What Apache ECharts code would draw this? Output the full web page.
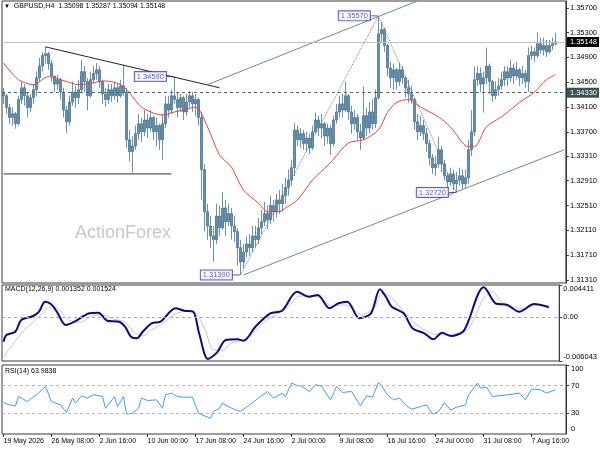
<!DOCTYPE html>
<html><head><meta charset="utf-8">
<script src="https://cdn.jsdelivr.net/npm/echarts@6/dist/echarts.min.js"></script>
<style>html,body{margin:0;padding:0;background:#fff}#c{width:600px;height:450px}</style>
</head><body><div id="c"></div>
<script>
const FONT = 'Liberation Sans';
const xLabels = ['19 May 2026','26 May 08:00','2 Jun 16:00','10 Jun 00:00','17 Jun 08:00','24 Jun 16:00','2 Jul 00:00','9 Jul 08:00','16 Jul 16:00','24 Jul 00:00','31 Jul 08:00','7 Aug 16:00'];
const priceTicks = [1.3131,1.3171,1.3211,1.3251,1.3291,1.3331,1.337,1.341,1.345,1.349,1.353,1.357];
const macdTicks = [-0.006043,0,0.004411];
const rsiTicks = [30,70,100];
const rsiZeroTick = [0];
const headerValues = [1.35098,1.35287,1.35094,1.35148];
const currentPrice = 1.35148;
const levelPrice = 1.3433;
const firstOpen = 1.3434;
const closes = [
1.3428,1.3409,1.3393,1.3399,1.3383,1.3422,1.3441,1.3428,1.3409,1.3425,
1.3438,1.3457,1.3476,1.3493,1.3496,1.3480,1.3460,1.3447,1.3454,1.3434,
1.3405,1.3386,1.3418,1.3434,1.3425,1.3438,1.3467,1.3451,1.3428,1.3454,
1.3464,1.3470,1.3451,1.3431,1.3422,1.3438,1.3428,1.3441,1.3428,1.3444,
1.3434,1.3357,1.3338,1.3347,1.3367,1.3383,1.3370,1.3389,1.3376,1.3393,
1.3370,1.3380,1.3357,1.3383,1.3415,1.3405,1.3428,1.3422,1.3409,1.3425,
1.3402,1.3418,1.3428,1.3415,1.3422,1.3393,1.3309,1.3241,1.3218,1.3202,
1.3196,1.3234,1.3215,1.3247,1.3225,1.3238,1.3218,1.3209,1.3183,1.3160,
1.3176,1.3189,1.3183,1.3202,1.3196,1.3215,1.3225,1.3238,1.3228,1.3251,
1.3241,1.3260,1.3254,1.3267,1.3280,1.3292,1.3312,1.3373,1.3357,1.3367,
1.3351,1.3360,1.3344,1.3370,1.3389,1.3376,1.3383,1.3363,1.3376,1.3351,
1.3389,1.3402,1.3415,1.3405,1.3428,1.3402,1.3383,1.3393,1.3370,1.3360,
1.3396,1.3376,1.3402,1.3383,1.3425,1.3528,1.3535,1.3509,1.3473,1.3457,
1.3470,1.3451,1.3470,1.3457,1.3441,1.3431,1.3422,1.3386,1.3370,1.3380,
1.3367,1.3351,1.3328,1.3312,1.3318,1.3341,1.3318,1.3299,1.3289,1.3302,
1.3286,1.3292,1.3299,1.3286,1.3296,1.3341,1.3370,1.3454,1.3464,1.3447,
1.3457,1.3476,1.3451,1.3428,1.3438,1.3444,1.3454,1.3467,1.3457,1.3473,
1.3460,1.3470,1.3457,1.3464,1.3451,1.3493,1.3499,1.3493,1.3512,1.3502,
1.3509,1.3499,1.3509,1.3512,1.3515];
const highs = [
1.3441,1.3431,1.3415,1.3409,1.3402,1.3428,1.3451,1.3447,1.3434,1.3431,
1.3447,1.3467,1.3489,1.3499,1.3507,1.3499,1.3486,1.3460,1.3462,1.3457,
1.3441,1.3412,1.3428,1.3451,1.3444,1.3454,1.3486,1.3476,1.3457,1.3467,
1.3476,1.3481,1.3476,1.3454,1.3441,1.3447,1.3447,1.3451,1.3447,1.3454,
1.3478,1.3441,1.3373,1.3363,1.3380,1.3399,1.3393,1.3405,1.3399,1.3405,
1.3396,1.3393,1.3383,1.3399,1.3428,1.3428,1.3438,1.3459,1.3434,1.3431,
1.3428,1.3431,1.3436,1.3434,1.3431,1.3425,1.3402,1.3318,1.3254,1.3234,
1.3218,1.3254,1.3251,1.3273,1.3260,1.3254,1.3247,1.3234,1.3215,1.3196,
1.3189,1.3202,1.3205,1.3218,1.3218,1.3231,1.3244,1.3257,1.3251,1.3267,
1.3260,1.3270,1.3276,1.3286,1.3296,1.3309,1.3325,1.3384,1.3380,1.3376,
1.3373,1.3370,1.3367,1.3380,1.3401,1.3396,1.3399,1.3386,1.3383,1.3380,
1.3396,1.3415,1.3428,1.3431,1.3451,1.3431,1.3412,1.3405,1.3399,1.3383,
1.3443,1.3409,1.3418,1.3422,1.3438,1.3557,1.3547,1.3538,1.3512,1.3483,
1.3480,1.3473,1.3481,1.3476,1.3460,1.3454,1.3444,1.3425,1.3399,1.3396,
1.3389,1.3376,1.3357,1.3334,1.3331,1.3362,1.3347,1.3325,1.3305,1.3312,
1.3309,1.3305,1.3312,1.3309,1.3309,1.3357,1.3405,1.3475,1.3476,1.3473,
1.3467,1.3506,1.3480,1.3454,1.3451,1.3457,1.3467,1.3476,1.3476,1.3486,
1.3480,1.3483,1.3473,1.3476,1.3470,1.3506,1.3509,1.3506,1.3530,1.3522,
1.3522,1.3518,1.3518,1.3522,1.3530];
const lows = [
1.3415,1.3399,1.3383,1.3380,1.3375,1.3380,1.3415,1.3412,1.3393,1.3402,
1.3415,1.3428,1.3451,1.3467,1.3480,1.3470,1.3451,1.3434,1.3438,1.3422,
1.3393,1.3368,1.3380,1.3412,1.3409,1.3415,1.3434,1.3434,1.3405,1.3425,
1.3447,1.3454,1.3441,1.3415,1.3410,1.3415,1.3418,1.3422,1.3417,1.3425,
1.3428,1.3344,1.3322,1.3304,1.3341,1.3357,1.3354,1.3363,1.3360,1.3370,
1.3357,1.3347,1.3341,1.3325,1.3376,1.3393,1.3399,1.3415,1.3393,1.3402,
1.3389,1.3396,1.3409,1.3402,1.3396,1.3380,1.3260,1.3209,1.3196,1.3183,
1.3160,1.3189,1.3202,1.3212,1.3202,1.3218,1.3196,1.3192,1.3154,1.3139,
1.3150,1.3167,1.3170,1.3176,1.3183,1.3189,1.3205,1.3218,1.3212,1.3221,
1.3225,1.3231,1.3238,1.3241,1.3254,1.3267,1.3283,1.3299,1.3347,1.3344,
1.3341,1.3338,1.3334,1.3341,1.3367,1.3363,1.3360,1.3347,1.3351,1.3333,
1.3347,1.3383,1.3393,1.3393,1.3402,1.3389,1.3367,1.3373,1.3357,1.3341,
1.3357,1.3363,1.3367,1.3373,1.3376,1.3422,1.3515,1.3499,1.3460,1.3441,
1.3438,1.3438,1.3444,1.3447,1.3425,1.3417,1.3415,1.3373,1.3357,1.3363,
1.3357,1.3338,1.3315,1.3302,1.3299,1.3312,1.3305,1.3292,1.3280,1.3283,
1.3276,1.3272,1.3283,1.3278,1.3280,1.3286,1.3331,1.3363,1.3444,1.3434,
1.3401,1.3447,1.3431,1.3418,1.3422,1.3428,1.3438,1.3444,1.3444,1.3451,
1.3447,1.3454,1.3444,1.3447,1.3441,1.3434,1.3486,1.3483,1.3489,1.3496,
1.3493,1.3491,1.3496,1.3502,1.3509];
const maPoints = [[0,1.3481],[5,1.3454],[10,1.3446],[15,1.3459],[21,1.3451],[25,1.3446],[32,1.3451],[34,1.3452],[39,1.3446],[42,1.3433],[46,1.3410],[53,1.3397],[57,1.3402],[60,1.3405],[64,1.3410],[68,1.3378],[72,1.3333],[76,1.3313],[80,1.3276],[85,1.3255],[88,1.3241],[92,1.3241],[94,1.3247],[98,1.3260],[103,1.3292],[109,1.3320],[115,1.3352],[120,1.3357],[125,1.3373],[128,1.3401],[131,1.3417],[135,1.3422],[139,1.3410],[145,1.3394],[149,1.3378],[155,1.3346],[157,1.3346],[161,1.3378],[166,1.3394],[172,1.3417],[177,1.3434],[181,1.3454],[184,1.3462]];
const macdPoints = [[0,-0.003388],[1,-0.002466],[4,-0.002012],[6,-0.000403],[10,0.000147],[12,0.000739],[14,0.002114],[16,0.001798],[18,0.000739],[21,-0.001091],[24,-0.000637],[29,0.000519],[32,0.000601],[35,-0.000499],[39,-0.000637],[41,-0.001325],[43,-0.002700],[45,-0.002920],[47,-0.002012],[50,-0.000857],[53,-0.000637],[58,0.001206],[61,0.000876],[64,0.000739],[66,-0.002233],[69,-0.005770],[72,-0.004900],[75,-0.003154],[79,-0.003058],[81,-0.003250],[85,-0.001325],[90,0.000519],[94,0.000876],[99,0.003490],[103,0.002801],[106,0.003034],[110,0.001206],[113,0.001893],[116,0.002114],[120,-0.000167],[124,0.000519],[127,0.003819],[129,0.002801],[131,0.001430],[135,0.000519],[138,-0.001544],[142,-0.002233],[145,-0.003058],[148,-0.002150],[151,-0.002603],[155,-0.002012],[157,-0.000403],[160,0.003034],[162,0.004093],[166,0.001893],[170,0.001660],[174,0.000739],[179,0.001798],[184,0.001352]];
const signalPoints = [[0,-0.005488],[3,-0.003842],[7,-0.001779],[10,-0.000678],[13,0.000422],[16,0.001523],[19,0.000973],[22,-0.000403],[26,-0.000678],[30,0.000147],[34,0.000285],[37,-0.000265],[41,-0.000678],[44,-0.002054],[47,-0.002604],[50,-0.001779],[54,-0.000816],[58,0.000422],[62,0.000835],[65,0.000560],[68,-0.001779],[71,-0.004530],[74,-0.004530],[77,-0.003567],[81,-0.003154],[84,-0.002329],[88,-0.000678],[92,0.000422],[96,0.001385],[100,0.002898],[104,0.002898],[107,0.002623],[111,0.001523],[114,0.001660],[117,0.001385],[121,0.000285],[125,0.001247],[128,0.003311],[131,0.002623],[134,0.001247],[137,-0.000128],[141,-0.001504],[145,-0.002329],[148,-0.002466],[152,-0.002329],[156,-0.001917],[159,-0.000128],[162,0.002623],[165,0.003448],[168,0.002072],[172,0.001385],[176,0.001110],[180,0.001660],[184,0.001524]];
const rsiPoints = [[0,45.5],[2,42.2],[4,40.7],[5,54.3],[6,52],[8,47],[10,54.3],[11,56.8],[14,69],[16,47],[19,42.2],[21,30.9],[23,52],[24,44.7],[26,55.3],[28,52],[30,56.8],[33,54.3],[34,37.3],[37,54.3],[38,39.7],[40,54.3],[41,29],[43,30],[45,37.3],[46,52],[48,48.5],[51,49.5],[53,37.3],[54,56.8],[56,59.3],[58,54.3],[60,53.4],[63,53.4],[65,30],[69,22.7],[70,32.4],[72,37.3],[73,44.7],[76,37.3],[79,32.4],[82,42.2],[85,52],[88,61.6],[90,52],[93,59.3],[94,54.3],[96,73.9],[98,70],[99,70],[102,61.6],[104,71.4],[106,69],[109,49.5],[111,69],[113,60.2],[116,61.6],[119,40.7],[121,55.3],[123,53.4],[125,74.8],[126,70],[128,56.8],[130,49.5],[132,52],[134,42.2],[136,35.9],[139,39.7],[141,42.2],[143,29],[145,32.4],[147,45.5],[149,34.8],[151,38.8],[154,42.2],[155,56.8],[158,73.9],[159,66.6],[161,68.1],[163,54.3],[168,56.8],[172,59.3],[174,49.5],[176,65.2],[179,64.1],[181,59.3],[184,63.9838]];
const swingPoints = [[57,1.3459],[79,1.3139],[125,1.3557],[151,1.3272]];
const zigzag = [[79,1.3139],[125,1.3557],[151,1.3272]];
const trendDown = [[14,1.3507],[72,1.3441]];
const channelUpper = [[68,1.3446],[138,1.3581]];
const channelLower = [[80,1.3139],[187,1.3341]];
const supportLine = [[0,1.3302],[56,1.3302]];
const N = 188;

const cats = Array.from({length:N}, (_, i) => String(i));
const candles = closes.map((c, i) => [i === 0 ? firstOpen : closes[i-1], c, lows[i], highs[i]]);
const frame = {show: true, borderColor: '#3a3a3a', borderWidth: 1, backgroundColor: 'transparent'};

function xAx(g, last) {
  return {
    type: 'category', gridIndex: g, data: cats, boundaryGap: true, show: last,
    axisLine: {show: false, onZero: false},
    axisTick: last ? {show: true, inside: true, interval: (i) => i % 16 === 0, alignWithLabel: true, length: 3, lineStyle: {color: '#333'}} : {show: false},
    axisLabel: last ? {show: true, interval: (i) => i % 16 === 0, formatter: (v, i) => xLabels[i / 16] || '', align: 'left', margin: 1,
      fontFamily: FONT, fontSize: 7, color: '#000'} : {show: false},
    splitLine: {show: false}
  };
}
function yAx(g, min, max, ticks, fmt, margin, vMin, vMax) {
  const o = {
    type: 'value', gridIndex: g, position: 'right', min: min, max: max,
    axisLine: {show: true, onZero: false, lineStyle: {color: '#3a3a3a'}},
    axisTick: {show: true, length: 3, customValues: ticks, lineStyle: {color: '#3a3a3a'}},
    axisLabel: {show: true, customValues: ticks, formatter: fmt, margin: margin, interval: 0,
      hideOverlap: false, showMinLabel: true, showMaxLabel: true, fontFamily: FONT, fontSize: 7.5, color: '#000'},
    splitLine: {show: false}
  };
  if (vMin) o.axisLabel.verticalAlignMinLabel = vMin;
  if (vMax) o.axisLabel.verticalAlignMaxLabel = vMax;
  return o;
}
function seg(data, color, type) {
  return {type: 'line', xAxisIndex: 0, yAxisIndex: 0, data: data, symbol: 'none', silent: true, z: 4,
    lineStyle: {color: color, width: 1, type: type || 'solid'}};
}
const tStyle = {fontFamily: FONT, fontSize: 7, fontWeight: 'normal', color: '#000'};

const chart = echarts.init(document.getElementById('c'), null, {renderer: 'canvas'});
chart.setOption({
  animation: false,
  textStyle: {fontFamily: FONT},
  title: [
    {text: '{t|▼}  GBPUSD,H4  ' + headerValues.map(v => v.toFixed(5)).join(' '), left: 4, top: 3, padding: 0,
      textStyle: Object.assign({rich: {t: {fontSize: 6, color: '#000'}}}, tStyle)},
    {text: 'MACD(12,26,9) ' + macdPoints[macdPoints.length-1][1].toFixed(6) + ' ' + signalPoints[signalPoints.length-1][1].toFixed(6),
      left: 5, top: 286, padding: 0, textStyle: tStyle},
    {text: 'RSI(14) ' + rsiPoints[rsiPoints.length-1][1].toFixed(4),
      left: 5, top: 368, padding: 0, textStyle: tStyle},
    {text: String(rsiZeroTick[0]), left: 571, top: 425, padding: 0,
      textStyle: {fontFamily: FONT, fontSize: 7.5, fontWeight: 'normal', color: '#000'}}
  ],
  graphic: [{type: 'text', left: 75, top: 224, z: 0, silent: true,
    style: {text: 'ActionForex', fontFamily: FONT, fontSize: 18, fill: '#c8c8c8'}}],
  grid: [
    Object.assign({left: 2, right: 34, top: 1, height: 282}, frame),
    Object.assign({left: 2, right: 34, top: 285, height: 76}, frame),
    Object.assign({left: 2, right: 34, top: 365, height: 69}, frame),
    {left: 2, right: 34, top: 365, height: 72, show: false}
  ],
  xAxis: [xAx(0, false), xAx(1, false), xAx(2, false), xAx(3, true)],
  yAxis: [
    yAx(0, 1.3126, 1.3581, priceTicks, v => v.toFixed(5), 4),
    yAx(1, -0.006043, 0.004411, macdTicks, v => v === 0 ? '0.00' : v.toFixed(6), 4, 'bottom', 'top'),
    yAx(2, 0, 100, rsiTicks, v => String(v), 5, null, 'top'),
    {type: 'value', gridIndex: 3, min: 0, max: 1, show: false}
  ],
  series: [
    {type: 'candlestick', xAxisIndex: 0, yAxisIndex: 0, data: candles, barWidth: 2.4, z: 3,
      itemStyle: {color: '#6592b3', color0: '#6592b3', borderColor: '#47758f', borderColor0: '#47758f', borderWidth: 0.8},
      markLine: {silent: true, symbol: ['none', 'none'], precision: 5, animation: false,
        data: [
          {yAxis: currentPrice, lineStyle: {color: '#c0c0c0', type: 'solid', width: 1},
            label: {show: true, position: 'end', distance: 1, formatter: p => Number(p.value).toFixed(5), fontFamily: FONT, fontSize: 7.5,
              color: '#fff', backgroundColor: '#000', padding: [1, 2, 1, 3]}},
          {yAxis: levelPrice, lineStyle: {color: '#506868', type: [3, 3], width: 1},
            label: {show: true, position: 'end', distance: 1, formatter: p => Number(p.value).toFixed(5), fontFamily: FONT, fontSize: 7.5,
              color: '#fff', backgroundColor: '#3e5454', padding: [1, 2, 1, 3]}}
        ]}},
    {type: 'line', xAxisIndex: 0, yAxisIndex: 0, data: maPoints, symbol: 'none', smooth: 0.3, silent: true, z: 4,
      lineStyle: {color: '#f03c3c', width: 1}},
    seg(trendDown, '#222222'),
    seg(channelUpper, '#6f8a8a'),
    seg(channelLower, '#6f8a8a'),
    seg(supportLine, '#333333'),
    seg(zigzag, '#7a7a7a', 'dotted'),
    {type: 'scatter', xAxisIndex: 0, yAxisIndex: 0, data: swingPoints, symbol: 'rect', symbolSize: [7, 1], symbolOffset: [-4, 0],
      silent: true, z: 6, itemStyle: {color: '#3030b0'},
      label: {show: true, position: 'left', distance: 1, formatter: p => p.value[1].toFixed(5), fontFamily: FONT, fontSize: 7.5,
        color: '#2a2ab0', backgroundColor: '#fff', borderColor: '#3a3ac0', borderWidth: 1, padding: [1, 2, 0, 2]}},
    {type: 'line', xAxisIndex: 1, yAxisIndex: 1, data: signalPoints, symbol: 'none', smooth: 0.3, silent: true,
      lineStyle: {color: '#c4c4c4', width: 1},
      markLine: {silent: true, symbol: ['none', 'none'], label: {show: false},
        lineStyle: {color: '#a8a8a8', type: [3, 3], width: 1}, data: [{yAxis: 0}]}},
    {type: 'line', xAxisIndex: 1, yAxisIndex: 1, data: macdPoints, symbol: 'none', smooth: 0.3, silent: true, z: 4,
      lineStyle: {color: '#0b0b8a', width: 2}},
    {type: 'line', xAxisIndex: 2, yAxisIndex: 2, data: rsiPoints, symbol: 'none', silent: true,
      lineStyle: {color: '#3d9bf5', width: 1},
      markLine: {silent: true, symbol: ['none', 'none'], label: {show: false},
        lineStyle: {color: '#b4b4b4', type: [3, 3], width: 1}, data: [{yAxis: 30}, {yAxis: 70}]}}
  ]
});
</script>
</body></html>
